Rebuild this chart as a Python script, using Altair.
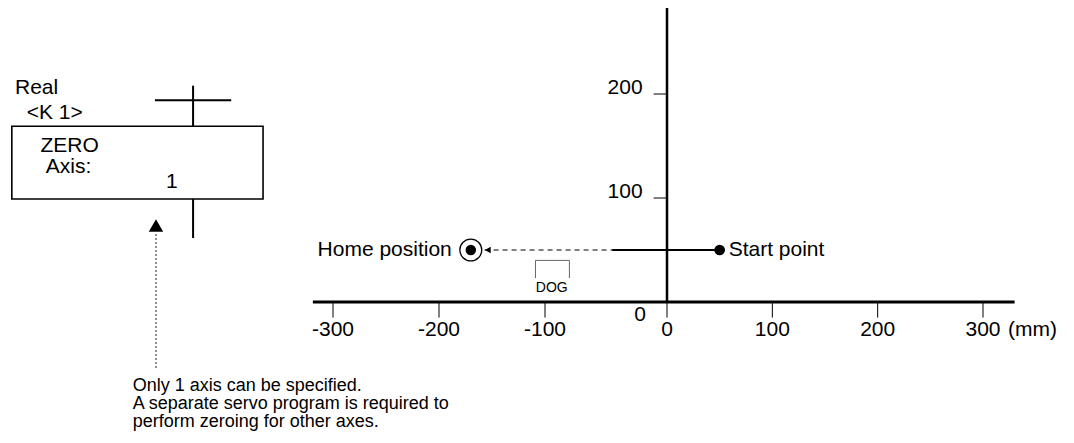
import altair as alt
import pandas as pd

FONT = "Liberation Sans"

# ---- coordinate axes (x, y in mm; x axis drawn piecewise as in the figure) ----
X_TICKS = [-300, -200, -100, 0, 100, 200, 300]
X_TICK_LABELS = ["-300", "-200", "-100", "0", "100", "200", "300"]
Y_TICKS = [100, 200]
Y_TICK_LABELS = ["100", "200"]
X_AXIS_SPAN = [-319, 330]
Y_AXIS_SPAN = [0, 287]
X_TICK_DROP = -15
Y_TICK_LEFT = -11
X_LABEL_Y = -27
Y_LABEL_X = -20
ORIGIN_LABEL = (-22, -12.5)
UNIT_LABEL = "(mm)"

# ---- motion ----
START = (50, 50)
HOME = (-170, 50)
SOLID_FROM = -45
ARROW_TIP = -157
DOG_X = [-109, -80]
DOG_Y = [23, 40]
DOG_LABEL = (-94.5, 13)

# ---- ladder instruction block ----
BOX_X = [-603, -366]
BOX_Y = [99, 169]
CONTACT_X = -432
CONTACT_TOP = [169, 208]
CONTACT_BOTTOM = [61.5, 99]
CONTACT_BAR_X = [-468, -396]
CONTACT_BAR_Y = 194
POINTER_X = -467
POINTER_Y = [-63.5, 66]
POINTER_HEAD_Y = 73.6

BLOCK_TEXT = ["Real", "<K 1>", "ZERO", "Axis:"]
BLOCK_TEXT_X = [-600, -589, -576, -571]
BLOCK_TEXT_Y = [206, 182, 150, 130]
AXIS_NO = ("1", -452, 115)

NOTE_LINES = [
    "Only 1 axis can be specified.",
    "A separate servo program is required to",
    "perform zeroing for other axes.",
]
NOTE_X = -489
NOTE_Y = -80

xs = alt.Scale(domain=[-300, -100, 0, 300], range=[325, 537, 659, 975], nice=False, zero=False)
ys = alt.Scale(domain=[0, 200], range=[294, 86], nice=False, zero=False)


def X(f="x"):
    return alt.X(f"{f}:Q", scale=xs, axis=None)


def Y(f="y"):
    return alt.Y(f"{f}:Q", scale=ys, axis=None)


def rules(rows, width, color="black", dash=None):
    df = pd.DataFrame(rows, columns=["x", "x2", "y", "y2"])
    kw = dict(color=color, strokeWidth=width)
    if dash:
        kw["strokeDash"] = dash
    return alt.Chart(df).mark_rule(**kw).encode(
        x=X(), x2="x2:Q", y=Y(), y2="y2:Q"
    )


def texts(labels, xv, yv, size=21, align="left", **extra):
    df = pd.DataFrame({"t": labels, "x": xv, "y": yv})
    kw = dict(font=FONT, fontSize=size, align=align, color="black")
    kw.setdefault("baseline", "middle")
    kw.update(extra)
    return alt.Chart(df).mark_text(**kw).encode(x=X(), y=Y(), text="t:N")


layers = []

# axes
layers.append(rules([[X_AXIS_SPAN[0], X_AXIS_SPAN[1], 0, 0]], 3))
layers.append(rules([[0, 0, Y_AXIS_SPAN[0], Y_AXIS_SPAN[1]]], 2.5))
layers.append(rules([[t, t, X_TICK_DROP, 0] for t in X_TICKS], 1))
layers.append(rules([[Y_TICK_LEFT, 0, t, t] for t in Y_TICKS], 1))
layers.append(texts(X_TICK_LABELS, X_TICKS, [X_LABEL_Y] * len(X_TICKS), align="center"))
layers.append(texts([UNIT_LABEL], [X_TICKS[-1]], [X_LABEL_Y], align="left", dx=25))
layers.append(texts(Y_TICK_LABELS, [Y_LABEL_X] * len(Y_TICKS), Y_TICKS, align="right", dy=-6))
layers.append(texts(["0"], [ORIGIN_LABEL[0]], [ORIGIN_LABEL[1]], align="center"))

# motion path
layers.append(rules([[SOLID_FROM, START[0], START[1], START[1]]], 2))
layers.append(rules([[ARROW_TIP, SOLID_FROM, START[1], START[1]]], 1.2, dash=[5, 4]))
layers.append(
    alt.Chart(pd.DataFrame({"x": [ARROW_TIP + 3], "y": [HOME[1]]}))
    .mark_point(shape="triangle-left", filled=True, size=45, color="black", opacity=1)
    .encode(x=X(), y=Y())
)
layers.append(
    alt.Chart(pd.DataFrame({"x": [START[0]], "y": [START[1]]}))
    .mark_point(shape="circle", filled=True, size=115, color="black", opacity=1)
    .encode(x=X(), y=Y())
)
layers.append(
    alt.Chart(pd.DataFrame({"x": [HOME[0]], "y": [HOME[1]]}))
    .mark_point(shape="circle", filled=False, size=480, color="black", strokeWidth=1.3, opacity=1)
    .encode(x=X(), y=Y())
)
layers.append(
    alt.Chart(pd.DataFrame({"x": [HOME[0]], "y": [HOME[1]]}))
    .mark_point(shape="circle", filled=True, size=110, color="black", opacity=1)
    .encode(x=X(), y=Y())
)
layers.append(texts(["Start point"], [START[0]], [START[1]], align="left", dx=9))
layers.append(texts(["Home position"], [HOME[0]], [HOME[1]], align="right", dx=-19))

# DOG bracket
layers.append(
    rules(
        [
            [DOG_X[0], DOG_X[0], DOG_Y[0], DOG_Y[1]],
            [DOG_X[0], DOG_X[1], DOG_Y[1], DOG_Y[1]],
            [DOG_X[1], DOG_X[1], DOG_Y[0], DOG_Y[1]],
        ],
        1,
        color="#666666",
    )
)
layers.append(texts(["DOG"], [DOG_LABEL[0]], [DOG_LABEL[1]], size=14, align="center"))

# ladder block
layers.append(
    rules(
        [
            [CONTACT_X, CONTACT_X, CONTACT_TOP[0], CONTACT_TOP[1]],
            [CONTACT_X, CONTACT_X, CONTACT_BOTTOM[0], CONTACT_BOTTOM[1]],
            [CONTACT_BAR_X[0], CONTACT_BAR_X[1], CONTACT_BAR_Y, CONTACT_BAR_Y],
        ],
        2,
    )
)
layers.append(
    alt.Chart(pd.DataFrame({"x": [BOX_X[0]], "x2": [BOX_X[1]], "y": [BOX_Y[0]], "y2": [BOX_Y[1]]}))
    .mark_rect(fill="white", stroke="black", strokeWidth=1.6)
    .encode(x=X(), x2="x2:Q", y=Y(), y2="y2:Q")
)
layers.append(texts(BLOCK_TEXT, BLOCK_TEXT_X, BLOCK_TEXT_Y, align="left"))
layers.append(texts([AXIS_NO[0]], [AXIS_NO[1]], [AXIS_NO[2]], align="center"))

# pointer with note
layers.append(rules([[POINTER_X, POINTER_X, POINTER_Y[0], POINTER_Y[1]]], 1.2, color="#444444", dash=[2, 2]))
layers.append(
    alt.Chart(pd.DataFrame({"x": [POINTER_X], "y": [POINTER_HEAD_Y]}))
    .mark_point(shape="triangle-up", filled=True, size=210, color="black", opacity=1)
    .encode(x=X(), y=Y())
)
layers.append(
    texts(["\n".join(NOTE_LINES)], [NOTE_X], [NOTE_Y], size=18, align="left",
          baseline="top", dy=-8, lineBreak="\n", lineHeight=18)
)

chart = (
    alt.layer(*layers)
    .properties(width=1058, height=427, padding=0, autosize=alt.AutoSizeParams(type="none"))
    .configure(background="white", view=alt.ViewConfig(stroke=None))
)

chart.save("out.html", embed_options={"renderer": "svg", "actions": False})
